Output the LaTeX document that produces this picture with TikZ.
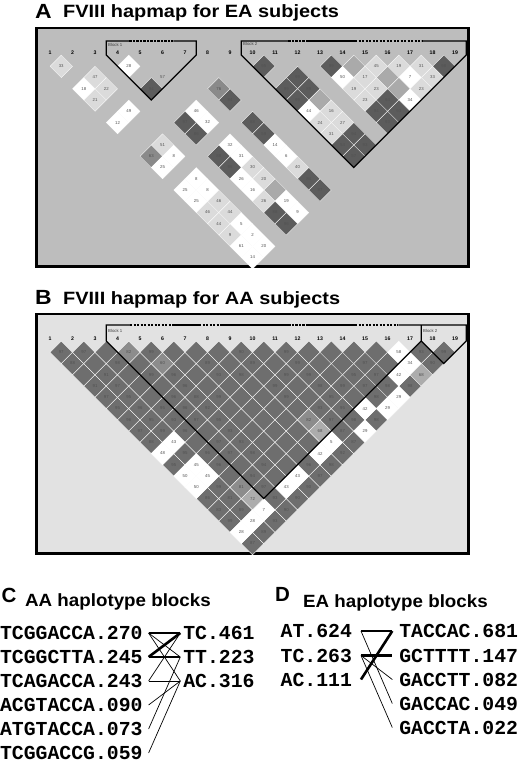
\documentclass[tikz,border=0pt]{standalone}
\usepackage{fontspec}
\usepackage{graphicx}
\setmainfont{Liberation Sans}
\newfontfamily\monof{Liberation Mono}
\definecolor{bgA}{RGB}{189,189,189}
\definecolor{dkA}{RGB}{92,92,92}
\definecolor{mdA}{RGB}{138,138,138}
\definecolor{msA}{RGB}{170,170,170}
\definecolor{ltA}{RGB}{219,219,219}
\definecolor{bgB}{RGB}{226,226,226}
\definecolor{dkB}{RGB}{110,110,110}
\definecolor{mdB}{RGB}{140,140,140}
\definecolor{ltB}{RGB}{172,172,172}
\newcommand\ldcell[5]{%
  \pgfmathsetmacro\ldx{50+(#2+#3-2)*11.25}%
  \pgfmathsetmacro\ldy{#1+(#3-#2)*11.25}%
  \filldraw[cellbox,fill=#4] (\ldx-11.25,\ldy) -- (\ldx,\ldy-11.25) -- (\ldx+11.25,\ldy) -- (\ldx,\ldy+11.25) -- cycle;
  \node[celltxt] at (\ldx,\ldy) {#5};}
\newcommand\ldlab[4]{%
  \pgfmathsetmacro\ldx{50+(#2+#3-2)*11.25}%
  \pgfmathsetmacro\ldy{#1+(#3-#2)*11.25}%
  \node[celltxt] at (\ldx,\ldy) {#4};}
\begin{document}
\begin{tikzpicture}[x=1pt,y=-1pt,
  cellbox/.style={draw=white,line width=0.35pt},
  celltxt/.style={inner sep=0,font=\fontsize{4.3}{4.3}\selectfont,text=black!68},
  mk/.style={inner sep=0,font=\fontsize{5.2}{5.2}\selectfont\bfseries},
  blabel/.style={inner sep=0,anchor=west,font=\fontsize{4.3}{4.3}\selectfont,text=black!75},
  blk/.style={line width=1.1pt},
  blkdash/.style={line width=1.1pt,dash pattern=on 2.2pt off 1.3pt},
  frame/.style={line width=2.6pt},
  plet/.style={inner sep=0,anchor=base west,font=\fontsize{20.5}{20.5}\selectfont\bfseries},
  ptitle/.style={inner sep=0,anchor=base west,font=\fontsize{17.8}{17.8}\selectfont\bfseries},
  htxt/.style={inner sep=0,font=\monof\fontsize{19.8}{19.8}\selectfont\bfseries},
  hl/.style={htxt,anchor=west,outer xsep=6pt},
  hr/.style={htxt,anchor=west,outer xsep=3pt},
  thinl/.style={line width=0.7pt},
  medl/.style={line width=1.4pt},
  thkl/.style={line width=2.6pt}]
\fill[white] (0,0) rectangle (520,774);
\useasboundingbox (0,0) rectangle (520,774);
% ---------------- titles A, B
\node[plet] (letA) at (35,18.3) {\scalebox{1.12}[1]{A}};
\node[ptitle] (titA) at (63,17.5) {\scalebox{1.12}[1]{FVIII hapmap for EA subjects}};
\node[plet] (letB) at (35,304.8) {\scalebox{1.12}[1]{B}};
\node[ptitle] (titB) at (63,304) {\scalebox{1.12}[1]{FVIII hapmap for AA subjects}};
% ---------------- panel A
\draw[frame,fill=bgA] (36.3,28) rectangle (468.7,266.5);
\foreach \i/\j/\c/\lab in {1/2/ltA/33,2/4/ltA/47,1/4/white/18,2/5/ltA/22,1/5/ltA/21,2/7/white/49,1/7/white/12,
  4/5/white/28,4/7/dkA/94,7/10/mdA/76,7/11/dkA/84,5/10/white/46,4/10/dkA/97,5/11/white/32,4/11/dkA/86,
  10/11/dkA/95,13/14/dkA/99,14/15/msA/{},15/16/ltA/45,16/17/ltA/19,17/18/ltA/31,18/19/dkA/98,
  13/15/white/50,14/16/ltA/17,15/17/msA/{},16/18/white/7,17/19/ltA/33,
  11/13/dkA/99,10/13/dkA/99,11/14/dkA/89,10/14/dkA/99,11/15/msA/{},
  13/16/ltA/19,14/17/ltA/23,15/18/msA/{},16/19/ltA/23,13/17/ltA/23,14/18/dkA/94,15/19/white/34,
  10/15/white/44,11/16/ltA/16,13/18/dkA/94,14/19/dkA/93,10/16/ltA/24,11/17/ltA/27,13/19/dkA/93,
  10/17/ltA/31,11/18/dkA/94,10/18/dkA/54,11/19/dkA/93,10/19/dkA/57,
  7/13/dkA/88,7/14/dkA/59,7/15/white/14,7/16/white/6,7/17/ltA/40,7/18/dkA/84,7/19/dkA/87,
  2/10/ltA/51,1/10/mdA/63,2/11/white/8,1/11/white/25,
  5/13/white/32,4/13/dkA/88,5/14/white/31,4/14/dkA/96,5/15/ltA/30,4/15/white/26,5/16/ltA/20,
  4/16/white/16,5/17/msA/{},4/17/ltA/26,5/18/white/19,4/18/dkA/88,5/19/white/9,4/19/dkA/96,
  2/13/white/8,1/13/white/25,2/14/white/8,1/14/white/25,2/15/ltA/46,1/15/ltA/46,2/16/ltA/44,
  1/16/ltA/44,2/17/white/5,1/17/ltA/9,2/18/white/2,1/18/white/61,2/19/white/20,1/19/white/14}
  {\ldcell{55}{\i}{\j}{\c}{\lab}}
\ldlab{55}{5}{7}{57}
\foreach \m in {1,...,19} {\node[mk] (mA\m) at ({50+(\m-1)*22.5},52.5) {\m};}
\draw[blk] (129.3,41) -- (106.25,41) -- (106.25,55) -- (151.25,100) -- (196.25,55) -- (196.25,41) -- (173.3,41);
\draw[blkdash] (129.3,41) -- (173.3,41);
\draw[blk] (288.3,41) -- (241.25,41) -- (241.25,55) -- (353.75,167.5) -- (466.25,55) -- (466.25,41) -- (421.7,41);
\draw[blkdash] (288.3,41) -- (308.3,41);
\draw[blk] (308.3,41) -- (355,41);
\draw[blkdash] (355,41) -- (421.7,41);
\node[blabel] (bA1) at (108,45) {Block 1};
\node[blabel] (bA2) at (243,44) {Block 2};
% ---------------- panel B
\draw[frame,fill=bgB] (36.3,314) rectangle (468.7,553.5);
\foreach \i in {1,...,18}{
  \pgfmathtruncatemacro\js{\i+1}
  \foreach \j in {\js,...,19}{\ldcell{341}{\i}{\j}{dkB}{}}}
\foreach \i/\j/\c/\lab in {4/5/mdB/82,5/7/mdB/60,16/17/white/58,16/18/white/34,15/18/white/42,16/19/ltB/68,
  14/19/white/29,13/19/white/29,12/18/white/42,11/19/white/29,9/17/ltB/68,9/16/mdB/82,9/18/white/5,
  8/18/white/42,6/18/white/43,5/18/white/43,3/18/white/7,2/18/white/28,1/18/white/28,3/17/ltB/72,
  3/16/mdB/81,1/11/white/48,2/11/white/43,1/13/white/50,2/13/white/45,1/14/white/50,2/14/white/45}
  {\ldcell{341}{\i}{\j}{\c}{\lab}}
\foreach \i/\j/\lab in {1/2/97,2/3/97,5/6/99,9/10/90,11/12/99,17/18/93,18/19/99,
  1/3/88,3/5/98,7/9/89,9/11/89,11/13/99,14/16/97,17/19/90,
  2/5/91,4/7/99,5/8/96,7/10/93,8/11/98,10/13/99,11/14/99,13/16/95,14/17/97,
  1/5/91,2/6/97,5/9/96,9/13/99,11/15/98,12/16/99,13/17/97,14/18/98,15/19/98,
  1/6/97,2/7/95,4/9/96,5/10/88,6/11/99,9/14/99,11/16/95,13/18/98,
  1/7/95,2/8/96,3/9/95,4/10/96,5/11/92,10/16/93,11/17/95,
  1/8/96,2/9/95,3/10/93,4/11/97,5/12/95,10/17/97,11/18/98,12/19/98,
  1/9/97,2/10/99,3/11/96,5/13/93,10/18/87,1/10/88,4/13/97,5/14/93,10/19/87,
  2/12/95,3/13/96,4/14/97,5/15/98,9/19/92,1/12/95,3/14/96,5/16/94,7/18/96,8/19/98,
  4/16/94,7/19/97,2/15/99,4/17/97,6/19/90,1/15/86,2/16/81,4/18/93,5/19/90,
  1/16/83,2/17/89,4/19/90,1/17/99,3/19/93,2/19/89,1/19/87}
  {\ldlab{341}{\i}{\j}{\lab}}
\foreach \m in {1,...,19} {\node[mk] (mB\m) at ({50+(\m-1)*22.5},338.5) {\m};}
\draw[blk] (130,325) -- (106.25,325) -- (106.25,341) -- (263.75,498.5) -- (421.25,341) -- (421.25,325);
\draw[blkdash] (130,325) -- (173.3,325);
\draw[blk] (173.3,325) -- (199,325);
\draw[blkdash] (199,325) -- (220,325);
\draw[blk] (220,325) -- (288.3,325);
\draw[blkdash] (288.3,325) -- (308.3,325);
\draw[blk] (308.3,325) -- (355,325);
\draw[blkdash] (355,325) -- (398.3,325);
\draw[blk] (398.3,325) -- (466.25,325) -- (466.25,341) -- (443.75,363.5) -- (421.25,341);
\node[blabel] (bB1) at (108,331) {Block 1};
\node[blabel] (bB2) at (423,331) {Block 2};
% ---------------- panel C
\node[plet] (letC) at (1.5,602) {C};
\node[inner sep=0,anchor=base west,font=\fontsize{17.7}{17.7}\selectfont\bfseries] (titC) at (25,606.5) {\scalebox{1.06}[1]{AA haplotype blocks}};
\node[hl] (cL1) at (-6,633) {TCGGACCA.270};
\node[hl] (cL2) at (-6,657) {TCGGCTTA.245};
\node[hl] (cL3) at (-6,681) {TCAGACCA.243};
\node[hl] (cL4) at (-6,705) {ACGTACCA.090};
\node[hl] (cL5) at (-6,729) {ATGTACCA.073};
\node[hl] (cL6) at (-6,753) {TCGGACCG.059};
\node[hr] (cR1) at (180.3,633) {TC.461};
\node[hr] (cR2) at (180.3,657) {TT.223};
\node[hr] (cR3) at (180.3,681) {AC.316};
\draw[medl] (cL1.east) -- (cR1.west);
\draw[thinl] (cL1.east) -- (cR2.west);
\draw[thinl] (cL1.east) -- (cR3.west);
\draw[thkl] (cL2.east) -- (cR1.west);
\draw[thkl] (cL2.east) -- (cR2.west);
\draw[thinl] (cL3.east) -- (cR1.west);
\draw[thinl] (cL3.east) -- (cR3.west);
\draw[thinl] (cL4.east) -- (cR3.west);
\draw[thinl] (cL5.east) -- (cR2.west);
\draw[thinl] (cL6.east) -- (cR3.west);
% ---------------- panel D
\node[plet] (letD) at (275,601) {D};
\node[inner sep=0,anchor=base west,font=\fontsize{17.7}{17.7}\selectfont\bfseries] (titD) at (303,607.5) {\scalebox{1.06}[1]{EA haplotype blocks}};
\node[htxt,anchor=west,outer xsep=9pt] (dL1) at (271.7,631) {AT.624};
\node[htxt,anchor=west,outer xsep=9pt] (dL2) at (271.7,655.5) {TC.263};
\node[htxt,anchor=west,outer xsep=9pt] (dL3) at (271.7,679.5) {AC.111};
\node[htxt,anchor=west,outer xsep=7pt] (dR1) at (392.3,631) {TACCAC.681};
\node[htxt,anchor=west,outer xsep=7pt] (dR2) at (392.3,655.5) {GCTTTT.147};
\node[htxt,anchor=west,outer xsep=7pt] (dR3) at (392.3,679.5) {GACCTT.082};
\node[htxt,anchor=west,outer xsep=7pt] (dR4) at (392.3,703.5) {GACCAC.049};
\node[htxt,anchor=west,outer xsep=7pt] (dR5) at (392.3,727.5) {GACCTA.022};
\draw[thkl] (dL1.east) -- (dR1.west);
\draw[thkl] (dL3.east) -- (dR1.west);
\draw[thkl] (dL2.east) -- (dR2.west);
\draw[thinl] (dL2.east) -- (dR3.west);
\draw[thinl] (dL1.east) -- (dR4.west);
\draw[thinl] (dL2.east) -- (dR5.west);
\end{tikzpicture}
\end{document}
